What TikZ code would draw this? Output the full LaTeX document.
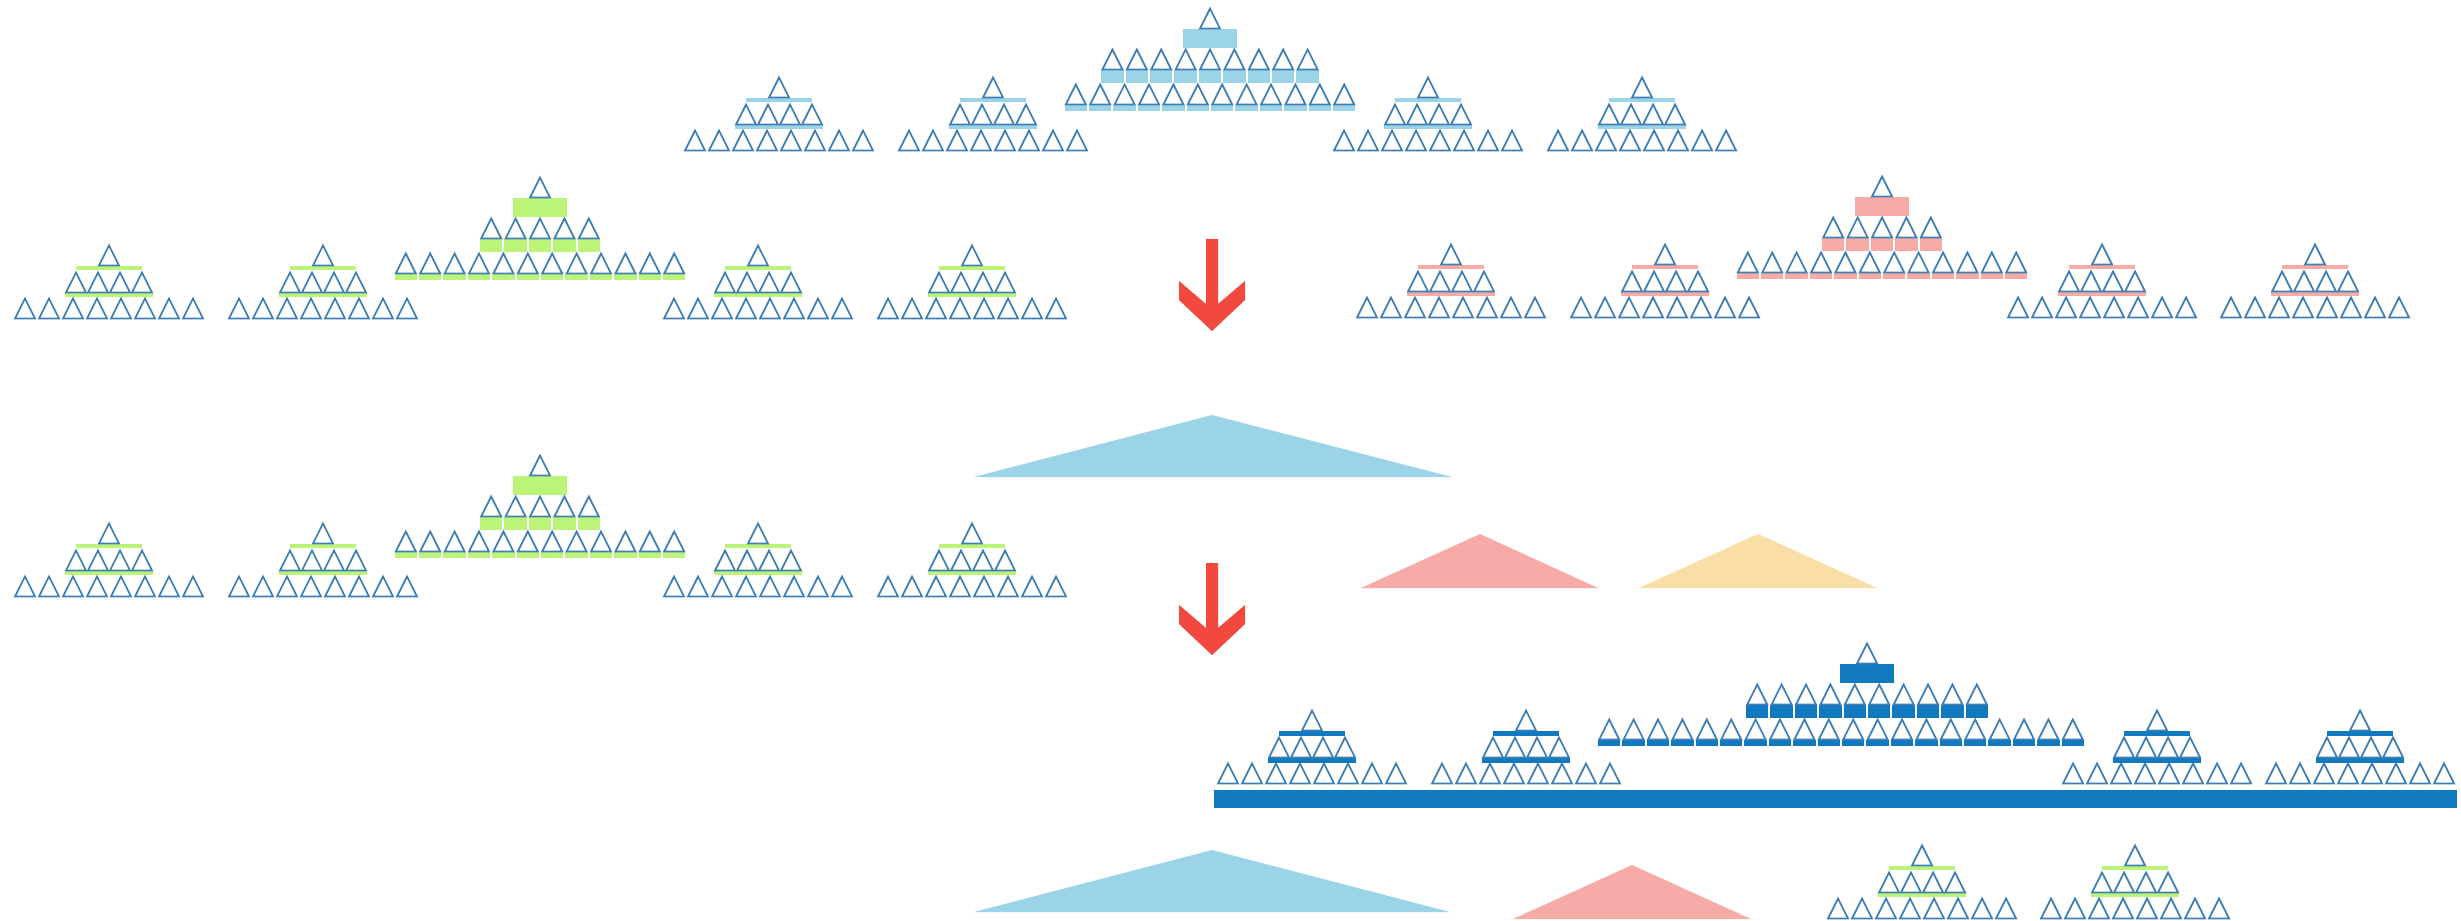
\documentclass[tikz,border=0pt]{standalone}
\definecolor{lblue}{HTML}{9BD4E7}
\definecolor{lgreen}{HTML}{BCF47A}
\definecolor{salm}{HTML}{F6ABA6}
\definecolor{yell}{HTML}{F9DFA6}
\definecolor{dblue}{HTML}{1079C0}
\definecolor{triline}{HTML}{3F7FB5}
\definecolor{arrred}{HTML}{F2483D}
\tikzset{tri/.style={draw=triline, line width=0.5pt, line join=miter}}
% row of n small outlined triangles: n, center x, top y, pitch
\newcommand\TriRow[4]{%
  \foreach \ii in {1,...,#1}{%
    \pgfmathsetmacro\xx{#2+(\ii-(#1+1)/2)*#4}%
    \draw[tri] (\xx,#3+0.5) -- ++(-10,20) -- ++(20,0) -- cycle;}}
% row of n blocks: n, center x, top y, pitch, height, width, colour
\newcommand\BlkRow[7]{%
  \foreach \ii in {1,...,#1}{%
    \pgfmathsetmacro\xx{#2+(\ii-(#1+1)/2)*#4-#6/2}%
    \fill[#7] (\xx,#3) rectangle ++(#6,#5);}}
% small heap: center x, top y, colour, bar thickness
\newcommand\SmallHeap[4]{%
  \fill[#3] (#1-33,#2+21) rectangle (#1+33,#2+21+#4);
  \fill[#3] (#1-44,#2+48) rectangle (#1+44,#2+48+#4);
  \TriRow{1}{#1}{#2}{0}
  \TriRow{4}{#1}{#2+27}{22}
  \TriRow{8}{#1}{#2+53}{24}}
% big heap: center x, top y, n middle, n bottom, colour, bottom center x
\newcommand\BigHeap[6]{%
  \fill[#5] (#1-27,#2+21) rectangle (#1+27,#2+40);
  \BlkRow{#3}{#1}{#2+62}{24.4}{13}{22.4}{#5}
  \BlkRow{#4}{#6}{#2+97}{24.4}{6}{22.4}{#5}
  \TriRow{1}{#1}{#2}{0}
  \TriRow{#3}{#1}{#2+41}{24.4}
  \TriRow{#4}{#6}{#2+76}{24.4}}
% red down arrow: center x, top y
\newcommand\DownArr[2]{%
  \fill[arrred] (#1-6,#2) -- (#1-6,#2+65) -- (#1-33,#2+42) -- (#1-33,#2+61)
    -- (#1,#2+92) -- (#1+33,#2+61) -- (#1+33,#2+42) -- (#1+6,#2+65)
    -- (#1+6,#2) -- cycle;}
\begin{document}
\begin{tikzpicture}[x=0.01cm,y=-0.01cm]
\useasboundingbox[fill=white] (0,0) rectangle (2461,920);
% ---- row 1 : light blue
\BigHeap{1210}{8}{9}{12}{lblue}{1210}
\foreach \c in {779,993,1428,1642}{\SmallHeap{\c}{77}{lblue}{3.5}}
% ---- row 2 left : green
\BigHeap{540}{177}{5}{12}{lgreen}{540}
\foreach \c in {109,323,758,972}{\SmallHeap{\c}{245}{lgreen}{3.5}}
% ---- row 2 right : salmon
\BigHeap{1882}{176}{5}{12}{salm}{1882}
\foreach \c in {1451,1665,2102,2315}{\SmallHeap{\c}{244}{salm}{3.5}}
% ---- arrows
\DownArr{1212}{239}
\DownArr{1212}{563}
% ---- big coloured triangles, middle
\fill[lblue] (1212,415) -- (974,477) -- (1452,477) -- cycle;
\fill[salm] (1480,534) -- (1361,588) -- (1598,588) -- cycle;
\fill[yell] (1758,534) -- (1639,588) -- (1877,588) -- cycle;
% ---- row 3 left : green
\BigHeap{540}{455}{5}{12}{lgreen}{540}
\foreach \c in {109,323,758,972}{\SmallHeap{\c}{523}{lgreen}{3.5}}
% ---- row 4 : dark blue
\BigHeap{1867}{643}{10}{20}{dblue}{1841}
\foreach \c in {1312,1526,2157,2360}{\SmallHeap{\c}{710}{dblue}{5}}
\fill[dblue] (1214,790) rectangle (2457,808);
% ---- row 5
\fill[lblue] (1212,850) -- (974,912) -- (1450,912) -- cycle;
\fill[salm] (1632,865) -- (1513,919) -- (1751,919) -- cycle;
\foreach \c in {1922,2135}{\SmallHeap{\c}{845}{lgreen}{3.5}}
\end{tikzpicture}
\end{document}
